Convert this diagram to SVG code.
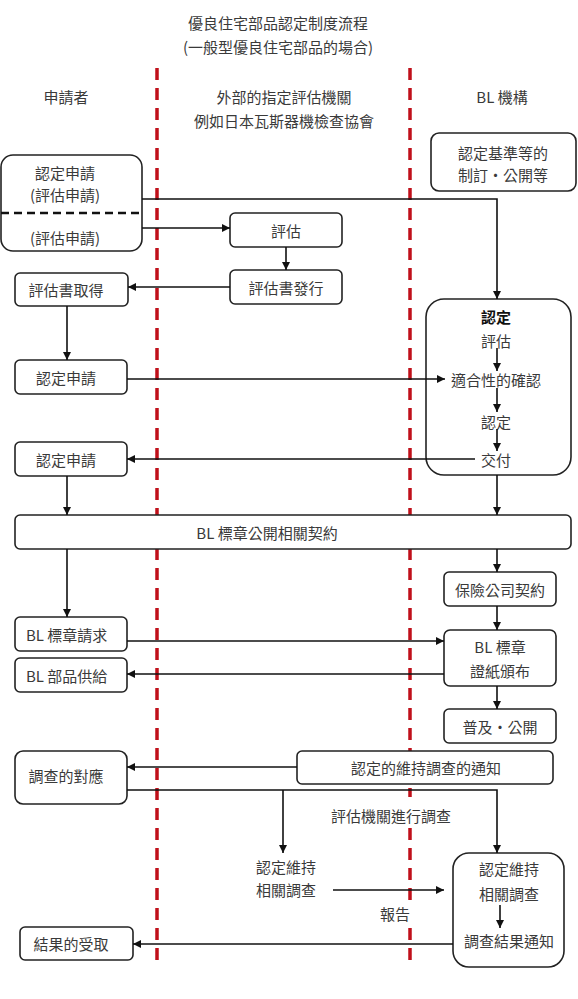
<svg xmlns="http://www.w3.org/2000/svg" width="578" height="999" viewBox="0 0 578 999">
<style>
  text { font-family: "Noto Sans CJK TC", "Noto Sans CJK SC", sans-serif; font-size: 15px; fill: #3a3a3a; text-anchor: middle; dominant-baseline: central; }
  .box { fill: #fff; stroke: #222; stroke-width: 1.6; }
  .lane { stroke: #c0101a; stroke-width: 3.5; stroke-dasharray: 12 8; fill: none; }
  .con { fill: none; stroke: #111; stroke-width: 1.6; marker-end: url(#ah); }
  .lt { text-anchor: start; }
  .bold { font-weight: bold; fill: #111; }
</style>
<defs>
  <marker id="ah" viewBox="0 0 10 10" refX="10" refY="5" markerWidth="9" markerHeight="8" markerUnits="userSpaceOnUse" orient="auto">
    <path d="M0,0 L10,5 L0,10 Z" fill="#111"/>
  </marker>
</defs>
<rect width="578" height="999" fill="#fff"/>

<g id="title">
  <text x="278" y="22">優良住宅部品認定制度流程</text>
  <text x="278" y="46">(一般型優良住宅部品的場合)</text>
</g>
<g id="lanes">
  <line class="lane" x1="157" y1="68" x2="157" y2="968"/>
  <line class="lane" x1="410" y1="68" x2="410" y2="968"/>
  <text x="66" y="96">申請者</text>
  <text x="284" y="96">外部的指定評估機關</text>
  <text x="284" y="120">例如日本瓦斯器機檢查協會</text>
  <text x="502" y="96">BL 機構</text>
</g>

<g id="n_apply1">
  <rect class="box" x="1" y="155" width="141" height="96" rx="12"/>
  <line x1="1" y1="213" x2="142" y2="213" stroke="#111" stroke-width="2.5" stroke-dasharray="8 5"/>
  <text x="65" y="172">認定申請</text>
  <text x="65" y="194">(評估申請)</text>
  <text x="65" y="237">(評估申請)</text>
</g>
<g id="n_std">
  <rect class="box" x="431" y="133" width="145" height="58" rx="8"/>
  <text x="503" y="152">認定基準等的</text>
  <text x="503" y="174">制訂・公開等</text>
</g>
<g id="n_eval">
  <rect class="box" x="230" y="213" width="112" height="34" rx="5"/>
  <text x="286" y="230">評估</text>
</g>
<g id="n_evalissue">
  <rect class="box" x="230" y="270" width="112" height="34" rx="5"/>
  <text x="286" y="287">評估書發行</text>
</g>
<g id="n_evalget">
  <rect class="box" x="15" y="273" width="113" height="33" rx="5"/>
  <text x="66" y="289">評估書取得</text>
</g>
<g id="n_apply2">
  <rect class="box" x="15" y="360" width="112" height="34" rx="5"/>
  <text x="66" y="377">認定申請</text>
</g>
<g id="n_apply3">
  <rect class="box" x="15" y="442" width="112" height="34" rx="5"/>
  <text x="66" y="459">認定申請</text>
</g>
<g id="n_cert">
  <rect class="box" x="426" y="299" width="145" height="176" rx="18"/>
  <text class="bold" x="496" y="316">認定</text>
  <text x="496" y="340">評估</text>
  <text x="496" y="379">適合性的確認</text>
  <text x="496" y="421">認定</text>
  <text x="496" y="459">交付</text>
  <path class="con" d="M497,348 V371"/>
  <path class="con" d="M497,388 V412"/>
  <path class="con" d="M497,429 V451"/>
</g>
<g id="n_contract">
  <rect class="box" x="15" y="515" width="556" height="34" rx="5"/>
  <text x="267" y="532">BL 標章公開相關契約</text>
</g>
<g id="n_insur">
  <rect class="box" x="444" y="572" width="112" height="34" rx="5"/>
  <text x="500" y="589">保險公司契約</text>
</g>
<g id="n_blreq">
  <rect class="box" x="15" y="617" width="112" height="34" rx="5"/>
  <text class="lt" x="26" y="634">BL 標章請求</text>
</g>
<g id="n_blissue">
  <rect class="box" x="444" y="630" width="112" height="56" rx="6"/>
  <text x="500" y="646">BL 標章</text>
  <text x="500" y="670">證紙頒布</text>
</g>
<g id="n_blsupply">
  <rect class="box" x="15" y="658" width="112" height="34" rx="5"/>
  <text class="lt" x="26" y="675">BL 部品供給</text>
</g>
<g id="n_publish">
  <rect class="box" x="444" y="709" width="112" height="34" rx="5"/>
  <text x="500" y="726">普及・公開</text>
</g>
<g id="n_respond">
  <rect class="box" x="15" y="751" width="112" height="53" rx="8"/>
  <text x="66" y="775">調查的對應</text>
</g>
<g id="n_notice">
  <rect class="box" x="297" y="751" width="256" height="33" rx="5"/>
  <text x="426" y="767">認定的維持調查的通知</text>
</g>
<g id="lbl_agency">
  <rect x="328" y="797" width="128" height="31" fill="#fff"/>
  <text x="391" y="815">評估機關進行調查</text>
</g>
<g id="n_survey_ext">
  <text x="286" y="866">認定維持</text>
  <text x="286" y="889">相關調查</text>
</g>
<g id="lbl_report">
  <rect x="378" y="900" width="38" height="27" fill="#fff"/>
  <text x="395" y="913">報告</text>
</g>
<g id="n_survey_bl">
  <rect class="box" x="453" y="853" width="111" height="114" rx="16"/>
  <text x="509" y="868">認定維持</text>
  <text x="509" y="893">相關調查</text>
  <path class="con" d="M500,905 V928"/>
  <text x="509" y="940">調查結果通知</text>
</g>
<g id="n_result">
  <rect class="box" x="20" y="927" width="113" height="33" rx="5"/>
  <text x="71" y="943">結果的受取</text>
</g>

<g id="connectors">
  <path class="con" d="M142,199 H497 V299"/>
  <path class="con" d="M142,228 H230"/>
  <path class="con" d="M286,247 V270"/>
  <path class="con" d="M230,287 H128"/>
  <path class="con" d="M67,306 V360"/>
  <path class="con" d="M127,379 H445"/>
  <path class="con" d="M475,459 H127"/>
  <path class="con" d="M67,476 V515"/>
  <path class="con" d="M497,475 V515"/>
  <path class="con" d="M67,549 V617"/>
  <path class="con" d="M497,549 V572"/>
  <path class="con" d="M497,606 V630"/>
  <path class="con" d="M127,641 H444"/>
  <path class="con" d="M444,674 H127"/>
  <path class="con" d="M497,686 V709"/>
  <path class="con" d="M297,767 H127"/>
  <path class="con" d="M127,790 H497 V853"/>
  <path class="con" d="M283,790 V853"/>
  <path class="con" d="M333,890 H444"/>
  <path class="con" d="M453,944 H133"/>
</g>
</svg>
